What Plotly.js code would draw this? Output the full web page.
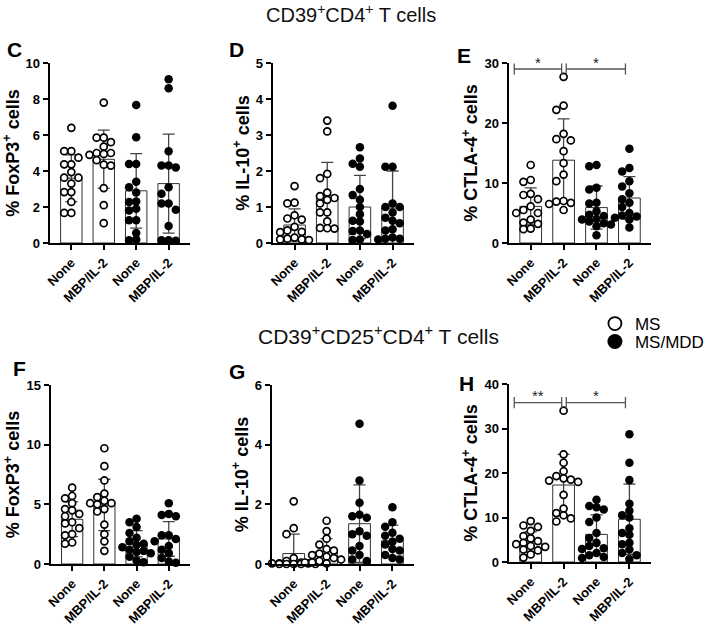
<!DOCTYPE html>
<html><head><meta charset="utf-8">
<script src="https://cdn.plot.ly/plotly-3.0.1.min.js"></script>
<style>html,body{margin:0;padding:0;background:#fff}</style>
</head><body><div id="chart" style="width:709px;height:628px"></div>
<script>
// ---------- data ----------
const categories = ['None', 'MBP/IL-2', 'None', 'MBP/IL-2'];
const groupFilled = [false, false, true, true];
const legendNames = ['MS', 'MS/MDD'];

// Panel C: % FoxP3+ (CD39+CD4+)
const C_points = [
  [6.4, 5.1, 5.1, 4.74, 4.37, 4.37, 3.94, 3.63, 3.63, 3.3, 2.83, 2.83, 2.28, 1.67, 1.67],
  [7.8, 5.85, 5.85, 5.6, 5.35, 5.0, 5.0, 4.95, 4.9, 4.6, 4.35, 4.3, 3.05, 2.1, 1.1],
  [7.67, 5.87, 4.39, 4.39, 3.4, 3.1, 2.8, 2.28, 2.3, 1.8, 1.9, 1.26, 1.26, 0.56, 0.19, 0.15],
  [9.1, 8.6, 5.1, 4.3, 4.3, 4.2, 3.1, 2.74, 2.2, 2.2, 1.85, 0.95, 0.15, 0.15, 0.12]
];
const C_mean = [3.6, 4.65, 2.9, 3.3];
const C_sd = [1.3, 1.62, 2.07, 2.75];

// Panel D: % IL-10+ (CD39+CD4+)
const D_points = [
  [1.58, 1.12, 1.1, 0.77, 0.68, 0.65, 0.45, 0.35, 0.31, 0.3, 0.15, 0.12, 0.1, 0.1, 0.08],
  [3.4, 3.1, 1.92, 1.8, 1.4, 1.3, 1.25, 1.2, 1.1, 0.85, 0.85, 0.6, 0.42, 0.41, 0.4],
  [2.66, 2.35, 2.2, 2.12, 1.5, 1.33, 1.2, 1.0, 0.8, 0.62, 0.6, 0.35, 0.33, 0.25, 0.1, 0.08],
  [3.81, 2.12, 2.12, 1.1, 1.0, 1.0, 0.85, 0.7, 0.62, 0.55, 0.38, 0.35, 0.15, 0.12, 0.12, 0.1]
];
const D_mean = [0.5, 1.32, 1.0, 0.97];
const D_sd = [0.45, 0.92, 0.88, 1.03];

// Panel E: % CTLA-4+ (CD39+CD4+)
const E_points = [
  [13.0, 10.5, 10.2, 8.2, 8.0, 7.3, 6.1, 5.5, 5.0, 5.0, 3.9, 3.4, 3.2, 2.4, 2.3],
  [27.7, 22.9, 22.2, 18.2, 17.3, 17.1, 15.3, 13.3, 11.4, 10.3, 7.0, 6.9, 6.7, 6.5, 5.5],
  [13.0, 12.8, 9.2, 8.9, 6.7, 6.6, 5.3, 4.7, 4.5, 4.0, 3.9, 3.6, 3.3, 3.1, 2.8, 1.3],
  [15.7, 12.5, 11.9, 10.3, 9.4, 8.3, 7.3, 6.7, 6.0, 5.0, 4.6, 4.4, 4.2, 3.9, 2.6]
];
const E_mean = [6.1, 13.8, 5.9, 7.5];
const E_sd = [3.1, 6.9, 3.6, 3.55];
const E_sig = [[0, 1, '*'], [1, 3, '*']];

// Panel F: % FoxP3+ (CD39+CD25+CD4+)
const F_points = [
  [6.4, 5.7, 5.5, 5.1, 4.6, 4.5, 4.2, 4.0, 3.5, 3.4, 3.0, 2.5, 2.4, 1.8, 1.7],
  [9.7, 8.2, 7.0, 5.9, 5.6, 5.3, 5.1, 5.1, 5.0, 4.6, 4.4, 3.3, 2.5, 1.9, 1.1],
  [3.8, 3.5, 3.1, 2.6, 2.2, 1.9, 1.7, 1.6, 1.4, 1.2, 1.1, 1.0, 0.9, 0.6, 0.3, 0.15],
  [5.1, 4.2, 4.1, 4.0, 2.4, 2.4, 2.1, 1.9, 1.5, 1.2, 0.9, 0.5, 0.2, 0.1]
];
const F_mean = [3.75, 4.95, 1.7, 2.1];
const F_sd = [1.45, 2.15, 1.1, 1.45];

// Panel G: % IL-10+ (CD39+CD25+CD4+)
const G_points = [
  [2.1, 1.2, 1.0, 0.2, 0.1, 0.05, 0.02, 0.02, 0.02, 0, 0, 0, 0, 0],
  [1.45, 1.1, 0.85, 0.65, 0.5, 0.45, 0.35, 0.3, 0.25, 0.2, 0.15, 0.1, 0.05, 0.05, 0.02],
  [4.7, 2.8, 2.05, 1.65, 1.6, 1.55, 1.1, 1.0, 0.95, 0.6, 0.45, 0.3, 0.15, 0.1],
  [1.9, 1.4, 1.25, 1.05, 0.95, 0.85, 0.75, 0.65, 0.5, 0.45, 0.3, 0.2, 0.15]
];
const G_mean = [0.35, 0.42, 1.35, 0.78];
const G_sd = [0.65, 0.43, 1.3, 0.52];

// Panel H: % CTLA-4+ (CD39+CD25+CD4+)
const H_points = [
  [9.2, 8.2, 7.9, 7.0, 5.8, 5.3, 4.7, 4.3, 4.0, 3.6, 3.4, 2.8, 2.6, 1.7, 1.0],
  [34.0, 24.2, 22.3, 20.4, 19.3, 18.8, 18.5, 18.3, 18.0, 15.1, 12.0, 11.0, 10.5, 9.8, 9.1],
  [14.0, 12.6, 12.3, 11.8, 10.0, 9.0, 6.5, 5.4, 4.3, 3.6, 3.1, 2.9, 2.0, 1.5, 1.1, 0.9],
  [28.7, 22.3, 18.4, 13.1, 11.5, 10.5, 10.0, 7.6, 6.5, 6.1, 4.3, 4.0, 2.8, 2.0, 1.5, 0.7]
];
const H_mean = [4.5, 17.3, 6.2, 9.6];
const H_sd = [2.3, 6.9, 4.4, 7.9];
const H_sig = [[0, 1, '**'], [1, 3, '*']];

// ---------- drawing ----------
const W = 709, Hh = 628;
const FONT = 'Liberation Sans, Arial, Helvetica, sans-serif';
const XR = [-0.67, 3.67];

const panels = [
  {letter: 'C', pts: C_points, mean: C_mean, sd: C_sd, ymax: 10, dtick: 2, title: '% FoxP3<sup>+</sup> cells', xpx: [50, 192], ypx: [63, 243], lpos: [15, 50], sig: null, sigY: 0},
  {letter: 'D', pts: D_points, mean: D_mean, sd: D_sd, ymax: 5, dtick: 1, title: '% IL-10<sup>+</sup> cells', xpx: [275, 418], ypx: [63, 243], lpos: [239, 50], sig: null, sigY: 0},
  {letter: 'E', pts: E_points, mean: E_mean, sd: E_sd, ymax: 30, dtick: 10, title: '% CTLA-4<sup>+</sup> cells', xpx: [513, 657], ypx: [63, 243], lpos: [468, 55], sig: E_sig, sigY: 29},
  {letter: 'F', pts: F_points, mean: F_mean, sd: F_sd, ymax: 15, dtick: 5, title: '% FoxP3<sup>+</sup> cells', xpx: [51, 192], ypx: [385, 564], lpos: [20, 368], sig: null, sigY: 0},
  {letter: 'G', pts: G_points, mean: G_mean, sd: G_sd, ymax: 6, dtick: 2, title: '% IL-10<sup>+</sup> cells', xpx: [274, 418], ypx: [385, 564], lpos: [239, 371], sig: null, sigY: 0},
  {letter: 'H', pts: H_points, mean: H_mean, sd: H_sd, ymax: 40, dtick: 10, title: '% CTLA-4<sup>+</sup> cells', xpx: [513, 657], ypx: [384, 562], lpos: [470, 383], sig: H_sig, sigY: 35.8}
];

function swarmOffsets(vals, pxX, pxY, diam, step) {
  const order = vals.map((v, i) => i).sort((a, b) => vals[b] - vals[a]);
  const placed = [];
  const offs = new Array(vals.length).fill(0);
  const cand = [0, -1, 1, -2, 2, -3, 3];
  for (const i of order) {
    let chosen = null, best = -1, bestK = 0;
    for (const k of cand) {
      let minD = Infinity;
      placed.forEach(p => { minD = Math.min(minD, Math.hypot((k * step - p.o) * pxX, (vals[i] - p.v) * pxY)); });
      if (minD >= diam) { chosen = k; break; }
      if (minD > best) { best = minD; bestK = k; }
    }
    if (chosen === null) chosen = bestK;
    offs[i] = chosen * step;
    placed.push({o: chosen * step, v: vals[i]});
  }
  return offs;
}

const traces = [];
const layout = {
  width: W, height: Hh,
  margin: {l: 0, r: 0, t: 0, b: 0},
  paper_bgcolor: '#fff', plot_bgcolor: 'rgba(0,0,0,0)',
  font: {family: FONT, color: '#000'},
  showlegend: true,
  annotations: [],
  legend: {x: 600 / W, y: 1 - 306 / Hh, xanchor: 'left', yanchor: 'top', font: {size: 17, family: FONT}, bgcolor: 'rgba(0,0,0,0)', itemwidth: 30, tracegroupgap: 0},
  legend2: {x: 600 / W, y: 1 - 324 / Hh, xanchor: 'left', yanchor: 'top', font: {size: 17, family: FONT}, bgcolor: 'rgba(0,0,0,0)', itemwidth: 30, tracegroupgap: 0}
};

panels.forEach((p, idx) => {
  const k = idx + 1;
  const xa = 'x' + k, ya = 'y' + k;
  const pxX = (p.xpx[1] - p.xpx[0]) / (XR[1] - XR[0]);
  const pxY = (p.ypx[1] - p.ypx[0]) / p.ymax;

  layout['xaxis' + k] = {
    domain: [p.xpx[0] / W, p.xpx[1] / W], anchor: ya, range: XR,
    tickmode: 'array', tickvals: [0, 1, 2, 3], ticktext: categories, tickangle: -45,
    showline: true, linewidth: 2, linecolor: '#000', ticks: 'outside', ticklen: 5, tickwidth: 2, tickcolor: '#000',
    showgrid: false, zeroline: false, fixedrange: true,
    tickfont: {family: FONT, size: 13, color: '#000', weight: 'bold'}
  };
  layout['yaxis' + k] = {
    domain: [1 - p.ypx[1] / Hh, 1 - p.ypx[0] / Hh], anchor: xa, range: [0, p.ymax],
    tickmode: 'linear', tick0: 0, dtick: p.dtick,
    showline: true, linewidth: 2, linecolor: '#000', ticks: 'outside', ticklen: 5, tickwidth: 2, tickcolor: '#000',
    showgrid: false, zeroline: false, fixedrange: true,
    tickfont: {family: FONT, size: 13, color: '#000', weight: 'bold'},
    title: {text: p.title, font: {family: FONT, size: 18, color: '#000', weight: 'bold'}, standoff: 2}
  };

  traces.push({
    type: 'bar', x: [0, 1, 2, 3], y: p.mean, xaxis: xa, yaxis: ya, width: 0.66,
    marker: {color: '#fff', line: {color: '#333', width: 1}},
    error_y: {type: 'data', array: p.sd, visible: true, color: '#444', thickness: 1.3, width: 6},
    showlegend: false, hoverinfo: 'skip'
  });

  p.pts.forEach((vals, g) => {
    const offs = swarmOffsets(vals, pxX, pxY, 6.6, 0.22);
    const filled = groupFilled[g];
    traces.push({
      type: 'scatter', mode: 'markers', xaxis: xa, yaxis: ya, cliponaxis: false,
      x: vals.map((v, i) => g + offs[i]), y: vals,
      marker: filled ? {symbol: 'circle', size: 8.5, color: '#000', line: {width: 0}}
                     : {symbol: 'circle', size: 7, color: '#fff', line: {color: '#000', width: 1.7}},
      showlegend: false, hoverinfo: 'skip'
    });
  });

  if (p.sig) {
    p.sig.forEach(([a, b, lab]) => {
      const x0 = a === 0 ? a - 0.5 : a + 0.08;
      const x1 = b === 3 ? b - 0.12 : b - 0.06;
      traces.push({
        type: 'scatter', mode: 'lines+markers', xaxis: xa, yaxis: ya, cliponaxis: false,
        x: [x0, x1], y: [p.sigY, p.sigY],
        line: {color: '#555', width: 1.3},
        marker: {symbol: 'line-ns', size: 8, line: {color: '#555', width: 1.3}},
        showlegend: false, hoverinfo: 'skip'
      });
      layout.annotations.push({
        xref: xa, yref: ya, x: (x0 + x1) / 2, y: p.sigY, yshift: 7, text: lab, showarrow: false,
        font: {family: FONT, size: 15, color: '#222'}, yanchor: 'middle'
      });
    });
  }

  layout.annotations.push({
    xref: 'paper', yref: 'paper', x: p.lpos[0] / W, y: 1 - p.lpos[1] / Hh, text: '<b>' + p.letter + '</b>',
    showarrow: false, font: {family: FONT, size: 21, color: '#000'}, xanchor: 'center', yanchor: 'middle'
  });
});

// section titles
layout.annotations.push({xref: 'paper', yref: 'paper', x: 354 / W, y: 1 - 14 / Hh, text: 'CD39<sup>+</sup>CD4<sup>+</sup> T cells',
  showarrow: false, font: {family: FONT, size: 20, color: '#111'}, xanchor: 'center', yanchor: 'middle'});
layout.annotations.push({xref: 'paper', yref: 'paper', x: 382 / W, y: 1 - 335 / Hh, text: 'CD39<sup>+</sup>CD25<sup>+</sup>CD4<sup>+</sup> T cells',
  showarrow: false, font: {family: FONT, size: 21, color: '#111'}, xanchor: 'center', yanchor: 'middle'});

// legend entries (no data points)
traces.push({type: 'scatter', mode: 'markers', x: [null], y: [null], xaxis: 'x1', yaxis: 'y1', name: legendNames[0], legend: 'legend',
  marker: {symbol: 'circle', size: 13, color: '#fff', line: {color: '#000', width: 1.8}}, hoverinfo: 'skip'});
traces.push({type: 'scatter', mode: 'markers', x: [null], y: [null], xaxis: 'x1', yaxis: 'y1', name: legendNames[1], legend: 'legend2',
  marker: {symbol: 'circle', size: 15, color: '#000', line: {width: 0}}, hoverinfo: 'skip'});

Plotly.newPlot('chart', traces, layout, {staticPlot: true, displayModeBar: false});
</script></body></html>
